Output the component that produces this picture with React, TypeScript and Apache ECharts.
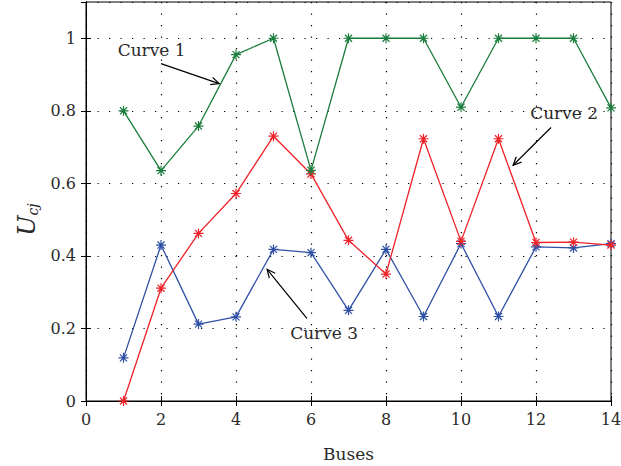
import React, { useEffect, useRef } from "react";
import * as echarts from "echarts";

const buses = [1, 2, 3, 4, 5, 6, 7, 8, 9, 10, 11, 12, 13, 14];
const curve1 = [0.8, 0.635, 0.758, 0.955, 1.0, 0.636, 1.0, 1.0, 1.0, 0.81, 1.0, 1.0, 1.0, 0.808];
const curve2 = [0.0, 0.311, 0.462, 0.572, 0.73, 0.626, 0.443, 0.35, 0.723, 0.44, 0.723, 0.437, 0.438, 0.43];
const curve3 = [0.119, 0.43, 0.212, 0.232, 0.418, 0.409, 0.25, 0.418, 0.233, 0.434, 0.233, 0.425, 0.422, 0.434];

const seriesNames = ["Curve 1", "Curve 2", "Curve 3"];
const seriesColors = ["#1b7d3d", "#ee2229", "#2e50a4"];

// annotations in data coordinates: text position, arrow start, arrow end
const annoText = ["Curve 1", "Curve 2", "Curve 3"];
const annoTextPos = [[1.75, 0.969], [12.75, 0.793], [6.35, 0.187]];
const annoFrom = [[2.0, 0.93], [12.4, 0.754], [5.89, 0.228]];
const annoTo = [[3.55, 0.875], [11.39, 0.65], [4.83, 0.363]];

const FONT = "DejaVu Serif";
const ASTERISK =
  "path://M0 8.8H20V11.2H0Z M8.8 0H11.2V20H8.8Z M2.1 3.8L3.8 2.1L17.9 16.2L16.2 17.9Z M16.2 2.1L17.9 3.8L3.8 17.9L2.1 16.2Z";

export default function App() {
  const ref = useRef<HTMLDivElement>(null);
  useEffect(() => {
    if (!ref.current) return;
    const chart = echarts.init(ref.current, null, { renderer: "svg" });
    const datas = [curve1, curve2, curve3];
    const axisCommon = {
      axisLine: { show: true, lineStyle: { color: "#000", width: 1 } },
      axisTick: { show: true, inside: true, length: 5, lineStyle: { color: "#000" } },
    };
    chart.setOption({
      animation: false,
      grid: {
        left: 86,
        right: 10,
        top: 2,
        bottom: 65,
        show: true,
        borderColor: "#000",
        borderWidth: 1,
        backgroundColor: "transparent",
        containLabel: false,
        outerBoundsMode: "none",
      },
      xAxis: [
        {
          type: "value",
          min: 0,
          max: 14,
          interval: 2,
          name: "Buses",
          nameLocation: "middle",
          nameGap: 44,
          nameTextStyle: { fontFamily: FONT, fontSize: 17, color: "#2a2a2a" },
          ...axisCommon,
          axisLabel: { fontFamily: FONT, fontSize: 16, color: "#2a2a2a", margin: 10 },
          splitLine: { show: true, lineStyle: { color: "#000", type: [1.2, 10.3], width: 1.2 } },
        },
        {
          type: "value",
          position: "top",
          min: 0,
          max: 14,
          interval: 2,
          ...axisCommon,
          axisLabel: { show: false },
          splitLine: { show: false },
        },
      ],
      yAxis: [
        {
          type: "value",
          min: 0,
          max: 1.1,
          interval: 0.2,
          ...axisCommon,
          axisLabel: { fontFamily: FONT, fontSize: 16, color: "#2a2a2a", margin: 10, showMaxLabel: false },
          splitLine: { show: true, lineStyle: { color: "#000", type: [1.2, 10.3], width: 1.2 } },
        },
        {
          type: "value",
          position: "right",
          min: 0,
          max: 1.1,
          interval: 0.2,
          ...axisCommon,
          axisLabel: { show: false },
          splitLine: { show: false },
        },
      ],
      series: datas.map((d, i) => ({
        name: seriesNames[i],
        type: "line",
        data: buses.map((b, j) => [b, d[j]]),
        color: seriesColors[i],
        lineStyle: { width: 1.3, color: seriesColors[i] },
        symbol: ASTERISK,
        symbolSize: 10,
        itemStyle: { color: seriesColors[i] },
        clip: false,
        z: 3 - i,
      })),
    });

    const graphics: any[] = [];
    for (let i = 0; i < annoText.length; i++) {
      const t = chart.convertToPixel({ gridIndex: 0 }, annoTextPos[i]) as number[];
      const a = chart.convertToPixel({ gridIndex: 0 }, annoFrom[i]) as number[];
      const b = chart.convertToPixel({ gridIndex: 0 }, annoTo[i]) as number[];
      graphics.push({
        type: "text",
        x: t[0],
        y: t[1],
        style: { text: annoText[i], font: `17px "${FONT}"`, fill: "#2a2a2a", align: "center", verticalAlign: "middle" },
        z: 100,
      });
      graphics.push({
        type: "line",
        shape: { x1: a[0], y1: a[1], x2: b[0], y2: b[1] },
        style: { stroke: "#000", lineWidth: 1.2 },
        z: 100,
      });
      const ang = Math.atan2(b[1] - a[1], b[0] - a[0]);
      const L = 9;
      const spread = (25 * Math.PI) / 180;
      const p1 = [b[0] - L * Math.cos(ang - spread), b[1] - L * Math.sin(ang - spread)];
      const p2 = [b[0] - L * Math.cos(ang + spread), b[1] - L * Math.sin(ang + spread)];
      graphics.push({
        type: "polyline",
        shape: { points: [p1, b, p2] },
        style: { stroke: "#000", lineWidth: 1.2, fill: null },
        z: 100,
      });
    }
    const yl = chart.convertToPixel({ gridIndex: 0 }, [0, 0.5]) as number[];
    graphics.push({
      type: "text",
      x: 27,
      y: yl[1],
      rotation: Math.PI / 2,
      style: {
        text: "{u|U}{s|cj}",
        align: "center",
        verticalAlign: "middle",
        rich: {
          u: { fontFamily: FONT, fontStyle: "italic", fontSize: 24, fill: "#2a2a2a", color: "#2a2a2a" },
          s: { fontFamily: FONT, fontStyle: "italic", fontSize: 14, fill: "#2a2a2a", color: "#2a2a2a", padding: [11, 0, 0, 0] },
        },
      },
      z: 100,
    });
    chart.setOption({ graphic: graphics });
    return () => chart.dispose();
  }, []);
  return <div ref={ref} style={{ width: 621, height: 466, position: "absolute", left: 0, top: 0 }} />;
}
